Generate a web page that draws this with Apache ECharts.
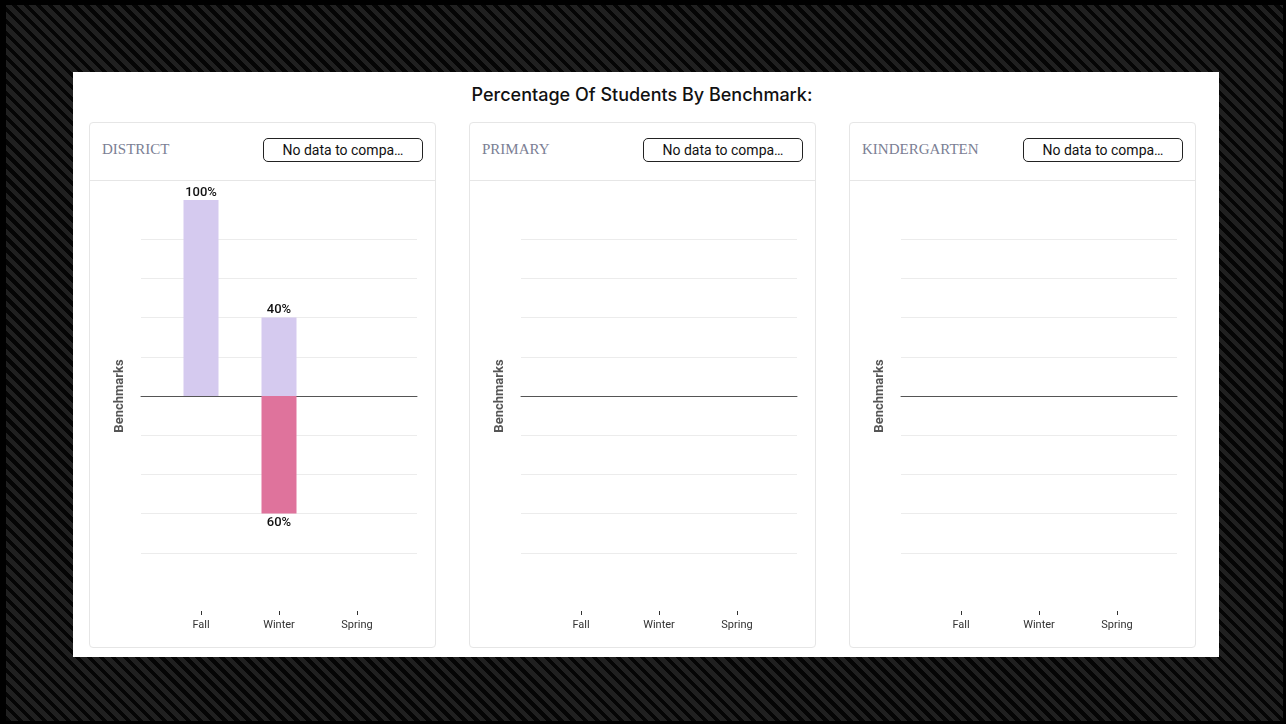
<!DOCTYPE html>
<html>
<head>
<meta charset="utf-8">
<title>Percentage Of Students By Benchmark</title>
<script src="https://cdn.jsdelivr.net/npm/echarts@6/dist/echarts.min.js"></script>
<style>
html, body { margin: 0; padding: 0; }
body { width: 1286px; height: 724px; background: #000; position: relative; overflow: hidden; }
.stripes { position: absolute; left: 6px; top: 5px; right: 3px; bottom: 3px;
  background: repeating-linear-gradient(45deg, #050505 0 4px, #202020 4px 8.5px); }
.panel { position: absolute; left: 73px; top: 72px; width: 1146px; height: 585px; background: #fff; }
.mainTitle { position: absolute; left: 69px; top: 84px; width: 1146px; text-align: center;
  font-family: Inter, "Noto Sans", sans-serif; font-weight: 500; font-size: 18px; color: #111; line-height: 22px; }
.card { position: absolute; top: 122px; width: 347px; height: 526px; box-sizing: border-box;
  border: 1px solid #e6e6e6; border-radius: 4px; background: #fff; }
.cardHead { height: 57px; border-bottom: 1px solid #e6e6e6; position: relative; }
.cardName { position: absolute; left: 12px; top: 18px; font-family: "Liberation Serif", serif;
  font-size: 15px; color: #7b8094; }
.compare { position: absolute; left: 173px; top: 15px; width: 160px; height: 24px; box-sizing: border-box;
  border: 1px solid #222; border-radius: 5px; font-family: Roboto, sans-serif; font-size: 14px;
  color: #111; text-align: center; line-height: 22px; }
.chart { position: absolute; top: 180px; width: 347px; height: 467px; }
</style>
</head>
<body>
<div class="stripes"></div>
<div class="panel"></div>
<div class="mainTitle">Percentage Of Students By Benchmark:</div>

<div class="card" style="left:89px"><div class="cardHead"><span class="cardName">DISTRICT</span><div class="compare">No data to compa…</div></div></div>
<div class="card" style="left:469px"><div class="cardHead"><span class="cardName">PRIMARY</span><div class="compare">No data to compa…</div></div></div>
<div class="card" style="left:849px"><div class="cardHead"><span class="cardName">KINDERGARTEN</span><div class="compare">No data to compa…</div></div></div>

<div class="chart" id="districtChart" style="left:89px"></div>
<div class="chart" id="primaryChart" style="left:469px"></div>
<div class="chart" id="kinderChart" style="left:849px"></div>

<script>
// 数据
var categories = ['Fall', 'Winter', 'Spring'];
var districtAbove = [100, 40, null];
var districtBelow = [0, -60, null];
var primaryAbove = [null, null, null];
var primaryBelow = [null, null, null];
var kinderAbove = [null, null, null];
var kinderBelow = [null, null, null];
var yMin = -100, yMax = 100, yStep = 20;

function pctLabel(p) {
	if (p.value === 0 || p.value == null) return '';
	return Math.abs(p.value) + '%';
}

function buildOption(above, below) {
	return {
		animation: false,
		textStyle: { fontFamily: 'Roboto' },
		grid: [
			{ left: 52, right: 19, top: 20, bottom: 55 },
			{ left: 73, right: 40, top: 20, bottom: 55 }
		],
		xAxis: [{
			gridIndex: 0, type: 'category', data: categories, silent: true,
			axisLine: { onZero: true, lineStyle: { color: '#555', width: 1 } },
			axisTick: { show: false }, axisLabel: { show: false }
		}, {
			gridIndex: 1, type: 'category', data: categories, offset: 19,
			axisLine: { show: true, onZero: false, lineStyle: { color: 'rgba(0,0,0,0)' } },
			axisTick: { show: true, alignWithLabel: true, length: 4, lineStyle: { color: '#333' } },
			axisLabel: { fontSize: 11, color: '#333', margin: 9 }
		}],
		yAxis: [{
			gridIndex: 0, type: 'value', min: yMin, max: yMax, interval: yStep,
			name: 'Benchmarks', nameLocation: 'middle', nameGap: 15,
			nameTextStyle: { fontSize: 13, fontWeight: 'bold', color: '#555' },
			axisLine: { show: false }, axisTick: { show: false }, axisLabel: { show: false },
			splitLine: { showMinLine: false, showMaxLine: false, lineStyle: { color: '#ececec' } }
		}, {
			gridIndex: 1, type: 'value', min: yMin, max: yMax, show: false
		}],
		series: [{
			name: 'above', type: 'bar', xAxisIndex: 1, yAxisIndex: 1,
			barWidth: 35, barGap: '-100%', data: above,
			itemStyle: { color: '#d5caef' },
			label: { show: true, position: 'top', distance: 1, formatter: pctLabel,
				fontSize: 13, fontWeight: 500, color: '#111' }
		}, {
			name: 'below', type: 'bar', xAxisIndex: 1, yAxisIndex: 1,
			barWidth: 35, barGap: '-100%', data: below,
			itemStyle: { color: '#df739c' },
			label: { show: true, position: 'bottom', distance: 3, formatter: pctLabel,
				fontSize: 13, fontWeight: 500, color: '#111' }
		}]
	};
}

echarts.init(document.getElementById('districtChart')).setOption(buildOption(districtAbove, districtBelow));
echarts.init(document.getElementById('primaryChart')).setOption(buildOption(primaryAbove, primaryBelow));
echarts.init(document.getElementById('kinderChart')).setOption(buildOption(kinderAbove, kinderBelow));
</script>
</body>
</html>
